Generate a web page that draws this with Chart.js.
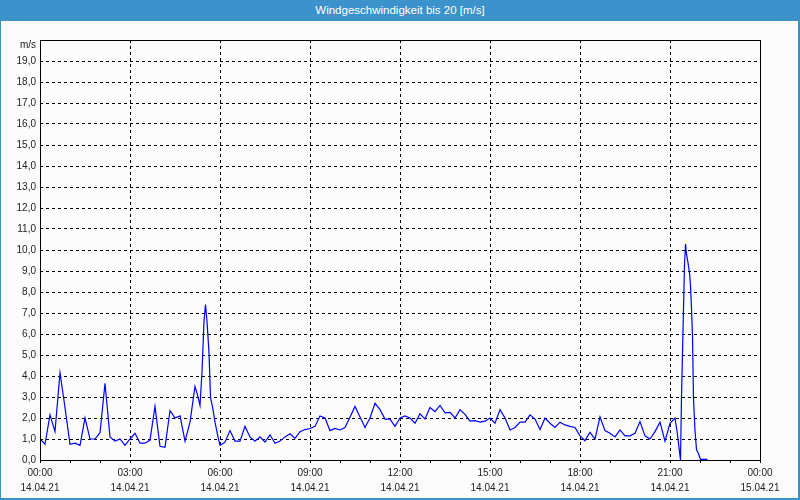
<!DOCTYPE html>
<html><head><meta charset="utf-8">
<script src="https://cdn.jsdelivr.net/npm/chart.js@4/dist/chart.umd.min.js"></script>
<style>
html,body{margin:0;padding:0;background:#fbfcfb;width:800px;height:500px;overflow:hidden;}
#frame{position:absolute;left:0;top:0;width:800px;height:500px;box-sizing:border-box;border-left:1px solid #3c92ca;border-right:2px solid #3c92ca;border-bottom:2px solid #3c92ca;}
#title{position:absolute;left:0;top:0;width:800px;height:21px;background:#3c92ca;color:#fff;font:11.5px "Liberation Sans",sans-serif;text-align:center;line-height:21px;z-index:2;}
#c{position:absolute;left:0;top:0;z-index:1;}
</style></head>
<body>
<div id="frame"></div>
<div id="title">Windgeschwindigkeit bis 20 [m/s]</div>
<canvas id="c" width="800" height="500"></canvas>
<script>
const times = ["00:00","00:10","00:20","00:30","00:40","00:50","01:00","01:10","01:20","01:30","01:40","01:50",
"02:00","02:10","02:20","02:30","02:40","02:50","03:00","03:10","03:20","03:30","03:40","03:50",
"04:00","04:10","04:20","04:30","04:40","04:50","05:00","05:10","05:15","05:20","05:24","05:28","05:31","05:34","05:38","05:41","05:46","05:50","05:56",
"06:00","06:10","06:20","06:30","06:40","06:50","07:00","07:10","07:20","07:30","07:40","07:50",
"08:00","08:10","08:20","08:30","08:40","08:50","09:00","09:10","09:20","09:30","09:40","09:50",
"10:00","10:10","10:20","10:30","10:40","10:50","11:00","11:10","11:20","11:30","11:40","11:50",
"12:00","12:10","12:20","12:30","12:40","12:50","13:00","13:10","13:20","13:30","13:40","13:50",
"14:00","14:10","14:20","14:30","14:40","14:50","15:00","15:10","15:20","15:30","15:40","15:50",
"16:00","16:10","16:20","16:30","16:40","16:50","17:00","17:10","17:20","17:30","17:40","17:50",
"18:00","18:10","18:20","18:30","18:40","18:50","19:00","19:10","19:20","19:30","19:40","19:50",
"20:00","20:10","20:20","20:30","20:40","20:50","21:00","21:10","21:15","21:18","21:21","21:23","21:25","21:27","21:29",
"21:31","21:33","21:36","21:39","21:41","21:43","21:45","21:47","21:50","21:53","21:57","22:01","22:15"];
const speeds = [1.0,0.75,2.15,1.35,4.15,2.5,0.75,0.8,0.7,2.0,1.0,1.0,
1.3,3.65,1.1,0.9,1.0,0.7,1.0,1.27,0.8,0.8,0.95,2.55,
0.65,0.6,2.35,2.0,2.1,0.9,1.8,3.5,3.1,2.6,4.2,6.6,7.4,6.6,5.1,3.0,2.4,1.8,1.1,
0.7,0.85,1.4,0.9,0.9,1.6,1.1,0.9,1.1,0.85,1.2,0.8,
0.9,1.1,1.25,1.03,1.35,1.45,1.5,1.6,2.1,2.0,1.4,1.5,
1.43,1.55,2.05,2.55,2.05,1.55,2.0,2.7,2.4,1.95,1.95,1.6,
2.0,2.1,2.0,1.75,2.2,1.95,2.5,2.3,2.6,2.25,2.27,2.0,
2.4,2.17,1.85,1.87,1.8,1.85,2.0,1.75,2.4,2.0,1.43,1.55,
1.8,1.8,2.15,1.95,1.45,2.0,1.75,1.55,1.8,1.67,1.6,1.55,
1.15,0.92,1.32,1.0,2.05,1.4,1.27,1.1,1.43,1.15,1.15,1.27,
1.83,1.15,1.0,1.35,1.8,0.9,1.75,2.0,1.2,0.6,0.0,3.0,5.1,7.2,9.3,
10.3,9.8,9.4,8.9,8.3,7.2,5.9,2.9,1.4,0.5,0.3,0.03,0.03];
const tickTimes = ["00:00","03:00","06:00","09:00","12:00","15:00","18:00","21:00","00:00"];
const tickDates = ["14.04.21","14.04.21","14.04.21","14.04.21","14.04.21","14.04.21","14.04.21","14.04.21","15.04.21"];
const yUnit = "m/s";

const toMin = t => { const p = t.split(':').map(Number); return p[0]*60 + p[1]; };
const points = times.map((t,i)=>({x: toMin(t), y: speeds[i]}));
const FONT = {family:'"Liberation Sans", Arial, sans-serif', size:10};
const TXT = '#222';

const framePlugin = {
  id:'frame',
  afterDraw(chart){
    const {ctx, chartArea:a} = chart;
    ctx.save();
    ctx.strokeStyle = '#000'; ctx.lineWidth = 1; ctx.setLineDash([]);
    ctx.strokeRect(Math.round(a.left)+0.5, Math.round(a.top)+0.5, Math.round(a.right-a.left), Math.round(a.bottom-a.top));
    ctx.fillStyle = TXT; ctx.font = '10px "Liberation Sans", Arial, sans-serif';
    ctx.textAlign = 'right'; ctx.textBaseline = 'middle';
    ctx.fillText(yUnit, a.left - 4, a.top + 5);
    ctx.restore();
  }
};

new Chart(document.getElementById('c'), {
  type:'line',
  data:{datasets:[{data:points, borderColor:'#0000ff', borderWidth:1.2, pointRadius:0, tension:0, fill:false}]},
  options:{
    responsive:false, animation:false,
    layout:{padding:{top:40,right:40,left:0,bottom:0}},
    plugins:{legend:{display:false}, tooltip:{enabled:false}},
    scales:{
      x:{type:'linear', min:0, max:1440,
        afterFit: s => { s.height = 40; },
        ticks:{stepSize:60, autoSkip:false, maxRotation:0, minRotation:0, padding:3, color:TXT,
          font:Object.assign({lineHeight:1.5}, FONT),
          callback: v => (v % 180 === 0) ? [tickTimes[v/180], tickDates[v/180]] : ''},
        grid:{color: c => (c.tick && c.tick.value % 180 === 0 && c.tick.value > 0 && c.tick.value < 1440) ? '#000' : 'rgba(0,0,0,0)',
          tickColor:'#000', tickLength:3, tickBorderDash:[], lineWidth:1},
        border:{display:false, dash:[3,3]}
      },
      y:{min:0, max:20,
        afterFit: s => { s.width = 40; },
        ticks:{stepSize:1, padding:4, color:TXT, font:FONT,
          callback: v => v < 20 ? v.toFixed(1).replace('.', ',') : ''},
        grid:{color: c => (c.tick && c.tick.value > 0 && c.tick.value < 20) ? '#000' : 'rgba(0,0,0,0)', drawTicks:false, lineWidth:1},
        border:{display:false, dash:[3,3]}
      }
    }
  },
  plugins:[framePlugin]
});
</script>
</body></html>
